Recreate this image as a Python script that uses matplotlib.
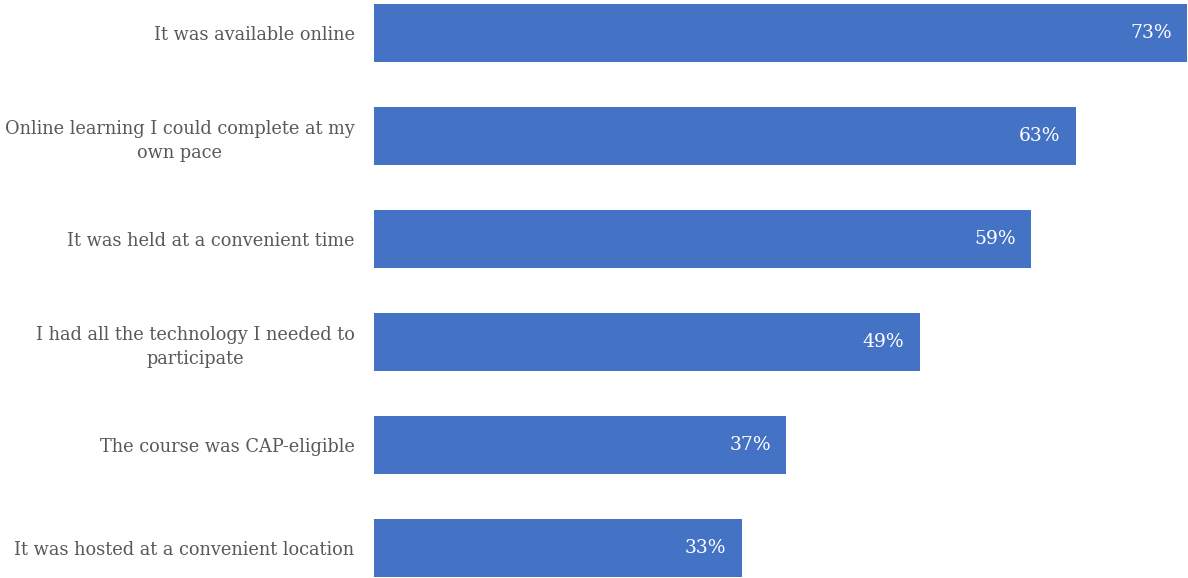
import matplotlib
matplotlib.use("Agg")
import matplotlib.pyplot as plt

categories = [
    "It was available online",
    "Online learning I could complete at my\nown pace",
    "It was held at a convenient time",
    "I had all the technology I needed to\nparticipate",
    "The course was CAP-eligible",
    "It was hosted at a convenient location",
]
values = [73, 63, 59, 49, 37, 33]
value_labels = ["73%", "63%", "59%", "49%", "37%", "33%"]

plt.rcParams['font.family'] = ['DejaVu Serif']
fig = plt.figure(figsize=(11.88, 5.78), dpi=100)
ax = fig.add_axes([374/1188, 0, (1187-374)/1188, 1])

ypos = list(range(len(categories)))
ax.barh(ypos, values, height=0.563, color="#4472C4")
ax.set_xlim(0, 73)
ax.set_ylim(5 + 30/103, -33/103)

for y, v, lab in zip(ypos, values, value_labels):
    ax.annotate(lab, xy=(v, y), xytext=(-11, 0), textcoords="offset points",
                ha="right", va="center", color="white", fontsize=13.5)

ax.set_yticks(ypos)
ax.set_yticklabels(categories, fontsize=12.8, color="#595959", ha="right",
                   multialignment="center", linespacing=1.45)
for t in ax.get_yticklabels():
    t.set_verticalalignment("center_baseline")
ax.tick_params(axis="y", length=0, pad=14)
ax.set_xticks([])
for s in ax.spines.values():
    s.set_visible(False)

fig.savefig("out.png", dpi=100)
